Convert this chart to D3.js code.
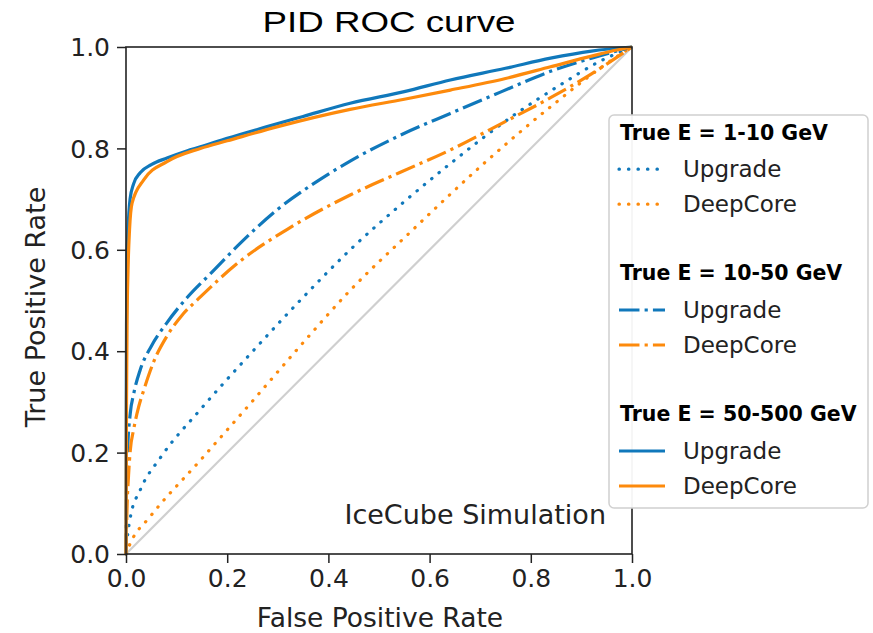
<!DOCTYPE html>
<html><head><meta charset="utf-8">
<script src="https://cdn.jsdelivr.net/npm/d3@7"></script>
<style>body{margin:0;background:#fff;} svg{display:block;}</style>
</head><body>
<svg id="c" width="873" height="633"></svg>
<script>
// ---- data ----
const xTicks = [0.0, 0.2, 0.4, 0.6, 0.8, 1.0];
const yTicks = [0.0, 0.2, 0.4, 0.6, 0.8, 1.0];

const fpr_low_up = [0, 0.003, 0.0085, 0.028, 0.068, 0.147, 0.246, 0.344, 0.443, 0.55, 0.641, 0.773, 0.85, 0.937, 1.0];
const tpr_low_up = [0, 0.035, 0.072, 0.126, 0.19, 0.285, 0.395, 0.50, 0.60, 0.695, 0.77, 0.87, 0.92, 0.972, 1.0];
const fpr_low_dc = [0, 0.0085, 0.048, 0.147, 0.246, 0.344, 0.443, 0.562, 0.707, 0.839, 0.97, 1.0];
const tpr_low_dc = [0, 0.021, 0.074, 0.185, 0.297, 0.41, 0.52, 0.635, 0.77, 0.882, 0.981, 1.0];

const fpr_mid_up = [0, 0.001, 0.003, 0.0085, 0.015, 0.028, 0.05, 0.08, 0.12, 0.17, 0.226, 0.3, 0.37, 0.443, 0.54, 0.641, 0.74, 0.839, 0.92, 1.0];
const tpr_mid_up = [0, 0.12, 0.20, 0.278, 0.315, 0.363, 0.41, 0.455, 0.505, 0.556, 0.613, 0.68, 0.73, 0.775, 0.825, 0.869, 0.911, 0.952, 0.978, 1.0];
const fpr_mid_dc = [0, 0.002, 0.005, 0.0085, 0.015, 0.025, 0.035, 0.055, 0.081, 0.11, 0.147, 0.226, 0.318, 0.443, 0.54, 0.641, 0.74, 0.839, 0.92, 1.0];
const tpr_mid_dc = [0, 0.09, 0.155, 0.205, 0.245, 0.29, 0.323, 0.38, 0.43, 0.47, 0.507, 0.578, 0.64, 0.708, 0.752, 0.797, 0.848, 0.90, 0.947, 1.0];

const fpr_high_up = [0, 0.0005, 0.001, 0.002, 0.004, 0.008, 0.015, 0.028, 0.05, 0.081, 0.12, 0.147, 0.2, 0.279, 0.35, 0.443, 0.55, 0.641, 0.75, 0.839, 0.92, 1.0];
const tpr_high_up = [0, 0.30, 0.45, 0.58, 0.64, 0.70, 0.73, 0.752, 0.768, 0.781, 0.795, 0.803, 0.82, 0.843, 0.863, 0.889, 0.912, 0.935, 0.958, 0.978, 0.992, 1.0];
const fpr_high_dc = [0, 0.001, 0.002, 0.004, 0.007, 0.012, 0.035, 0.081, 0.147, 0.2, 0.3, 0.443, 0.55, 0.641, 0.75, 0.839, 0.92, 0.97, 1.0];
const tpr_high_dc = [0, 0.30, 0.45, 0.56, 0.64, 0.692, 0.738, 0.774, 0.80, 0.815, 0.843, 0.877, 0.897, 0.915, 0.938, 0.961, 0.982, 0.994, 1.0];

const groupTitles = ["True E = 1-10 GeV", "True E = 10-50 GeV", "True E = 50-500 GeV"];
const detectors = ["Upgrade", "DeepCore"];
const titleText = "PID ROC curve";
const xLabel = "False Positive Rate";
const yLabel = "True Positive Rate";
const noteText = "IceCube Simulation";

// ---- styles ----
const BLUE = "#1078bb", ORANGE = "#fd8a0c";
const LW = 3.2;
const dashes = ["0.4,9.1", `${LW*6.4},${LW*1.6},${LW},${LW*1.6}`, null];

const curves = [
  {g:0, d:0, x:fpr_low_up, y:tpr_low_up},
  {g:0, d:1, x:fpr_low_dc, y:tpr_low_dc},
  {g:1, d:0, x:fpr_mid_up, y:tpr_mid_up},
  {g:1, d:1, x:fpr_mid_dc, y:tpr_mid_dc},
  {g:2, d:0, x:fpr_high_up, y:tpr_high_up},
  {g:2, d:1, x:fpr_high_dc, y:tpr_high_dc},
];

const svg = d3.select("#c");
const L = 126, R = 632, T = 47, B = 554;
const x = d3.scaleLinear().domain([0,1]).range([L,R]);
const y = d3.scaleLinear().domain([0,1]).range([B,T]);
const DV = "DejaVu Sans, sans-serif";

// diagonal
svg.append("line").attr("x1",x(0)).attr("y1",y(0)).attr("x2",x(1)).attr("y2",y(1))
  .attr("stroke","#cfcfcf").attr("stroke-width",2.2);

const line = d3.line().x(d=>x(d[0])).y(d=>y(d[1])).curve(d3.curveMonotoneX);
svg.append("clipPath").attr("id","clip").append("rect").attr("x",L-2).attr("y",T-2).attr("width",R-L+4).attr("height",B-T+4);
const cg = svg.append("g").attr("clip-path","url(#clip)");
curves.forEach(c=>{
  const pts = c.x.map((v,i)=>[v,c.y[i]]);
  cg.append("path").attr("d",line(pts)).attr("fill","none")
    .attr("stroke", c.d===0?BLUE:ORANGE).attr("stroke-width",LW)
    .attr("stroke-dasharray", dashes[c.g]).attr("stroke-linecap", c.g===0?"round":"butt")
    .attr("stroke-linejoin","round");
});

// axes
const xa = svg.append("g").attr("transform",`translate(0,${B})`)
  .call(d3.axisBottom(x).tickValues(xTicks).tickFormat(d3.format(".1f")).tickSize(9).tickPadding(6));
const ya = svg.append("g").attr("transform",`translate(${L},0)`)
  .call(d3.axisLeft(y).tickValues(yTicks).tickFormat(d3.format(".1f")).tickSize(9).tickPadding(7));
[xa,ya].forEach(a=>{
  a.select(".domain").remove();
  a.selectAll(".tick line").attr("stroke","#222").attr("stroke-width",1.5);
  a.selectAll(".tick text").attr("font-family",DV).attr("font-size",25).attr("fill","#222");
});
ya.selectAll(".tick text").attr("dy","0.35em");
// frame
svg.append("rect").attr("x",L).attr("y",T).attr("width",R-L).attr("height",B-T)
  .attr("fill","none").attr("stroke","#222").attr("stroke-width",1.6);

// labels
svg.append("text").attr("x",380).attr("y",627).attr("text-anchor","middle")
  .attr("font-family",DV).attr("font-size",26.5).attr("fill","#222").text(xLabel);
svg.append("text").attr("transform","translate(45,307) rotate(-90)").attr("text-anchor","middle")
  .attr("font-family",DV).attr("font-size",27).attr("fill","#222").text(yLabel);
svg.append("text").attr("x",389).attr("y",32).attr("text-anchor","middle")
  .attr("font-family","Liberation Sans, Arial, sans-serif").attr("font-size",30)
  .attr("textLength",253).attr("lengthAdjust","spacingAndGlyphs").attr("fill","#000").text(titleText);
svg.append("text").attr("x",606).attr("y",524).attr("text-anchor","end")
  .attr("font-family",DV).attr("font-size",27).attr("fill","#222").text(noteText);

// legend
const lg = svg.append("g");
lg.append("rect").attr("x",609).attr("y",115).attr("width",259).attr("height",393).attr("rx",5)
  .attr("fill","#fff").attr("fill-opacity",0.95).attr("stroke","#d0d0d0").attr("stroke-width",1.5);
const groupTop = [132.7, 273, 414];
const rowGap = [37, 72];
groupTitles.forEach((t,gi)=>{
  lg.append("text").attr("x",620).attr("y",groupTop[gi]).attr("dy","0.35em")
    .attr("font-family",DV).attr("font-weight","bold").attr("font-size",20.5).attr("fill","#000").text(t);
  detectors.forEach((dn,di)=>{
    const yy = groupTop[gi] + rowGap[di] - (gi===0? 0.5: 0);
    lg.append("line").attr("x1",619).attr("x2", gi===0 ? 658 : 665).attr("y1",yy).attr("y2",yy)
      .attr("stroke", di===0?BLUE:ORANGE).attr("stroke-width",LW)
      .attr("stroke-dasharray", dashes[gi]).attr("stroke-linecap", gi===0?"round":"butt");
    lg.append("text").attr("x",683).attr("y",yy).attr("dy","0.35em")
      .attr("font-family",DV).attr("font-size",23).attr("fill","#222").text(dn);
  });
});
</script>
</body></html>
